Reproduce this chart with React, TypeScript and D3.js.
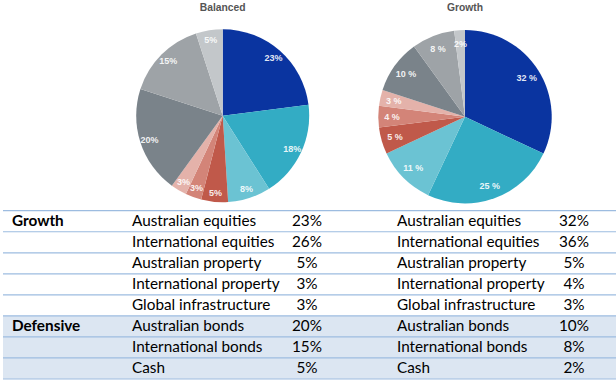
import React from "react";
import * as d3 from "d3";

const sliceColors = ["#0a34a0", "#33acc4", "#6bc3d3", "#c0594a", "#d38478", "#e4b2aa", "#7a838a", "#9ea3a7", "#c3c7ca"];
const balancedSlices = [23, 18, 8, 5, 3, 3, 20, 15, 5];
const growthSlices = [32, 25, 11, 5, 4, 3, 10, 8, 2];
const pieTitles = ["Balanced", "Growth"];

const groupLabels = ["Growth", "", "", "", "", "Defensive", "", ""];
const assetNames = ["Australian equities", "International equities", "Australian property", "International property", "Global infrastructure", "Australian bonds", "International bonds", "Cash"];
const balancedTable = ["23%", "26%", "5%", "3%", "3%", "20%", "15%", "5%"];
const growthTable = ["32%", "36%", "5%", "4%", "3%", "10%", "8%", "2%"];
const defensiveRows = [5, 6, 7];

const W = 616, H = 383;

function Pie({ cx, cy, r, labelR, values, title, spaced }: any) {
  const arcs = d3.pie<number>().sort(null).value((d) => d)(values);
  const arcGen = d3.arc<any>().innerRadius(0).outerRadius(r);
  const labelArc = d3.arc<any>().innerRadius(labelR).outerRadius(labelR);
  return (
    <g>
      <text x={cx} y={10.5} textAnchor="middle" fontFamily="Liberation Sans, Arial, sans-serif" fontWeight="bold" fontSize={10.3} fill="#555">{title}</text>
      {arcs.map((a, i) => (
        <path key={i} d={arcGen(a) as string} transform={`translate(${cx},${cy})`} fill={sliceColors[i]} />
      ))}
      {arcs.map((a, i) => {
        const [lx, ly] = labelArc.centroid(a);
        const label = spaced && a.data >= 3 ? `${a.data} %` : `${a.data}%`;
        return (
          <text key={"l" + i} x={cx + lx} y={cy + ly} dy="0.35em" textAnchor="middle" fontFamily="Liberation Sans, Arial, sans-serif" fontWeight="bold" fontSize={9} fill="#fff" fillOpacity={0.9}>
            {label}
          </text>
        );
      })}
    </g>
  );
}

export default function App() {
  const rowY = d3.scaleLinear().domain([0, 8]).range([210.7, 379]);
  const rows = d3.range(8);
  const font = "Lato, 'Open Sans', sans-serif";
  return (
    <svg width={W} height={H} style={{ position: "absolute", left: 0, top: 0, background: "#fff" }}>
      <Pie cx={222.7} cy={115.7} r={86.5} labelR={77} values={balancedSlices} title={pieTitles[0]} />
      <Pie cx={465} cy={116.7} r={86.7} labelR={73} values={growthSlices} title={pieTitles[1]} spaced />
      {rows.map((i) => (
        defensiveRows.includes(i) ? (
          <rect key={"bg" + i} x={3} y={rowY(i)} width={W - 3} height={rowY(i + 1) - rowY(i)} fill="#dce6f2" />
        ) : null
      ))}
      {d3.range(9).map((i) => (
        <line key={"ln" + i} x1={3} x2={W} y1={rowY(i)} y2={rowY(i)} stroke="#9dbce0" strokeWidth={1.2} />
      ))}
      {rows.map((i) => {
        const by = rowY(i) + 15.5;
        return (
          <g key={"r" + i} fontFamily={font} fontSize={15.3} fill="#000">
            {groupLabels[i] ? <text x={12} y={by} fontWeight="bold">{groupLabels[i]}</text> : null}
            <text x={132} y={by}>{assetNames[i]}</text>
            <text x={307} y={by} textAnchor="middle">{balancedTable[i]}</text>
            <text x={397} y={by}>{assetNames[i]}</text>
            <text x={574} y={by} textAnchor="middle">{growthTable[i]}</text>
          </g>
        );
      })}
    </svg>
  );
}
